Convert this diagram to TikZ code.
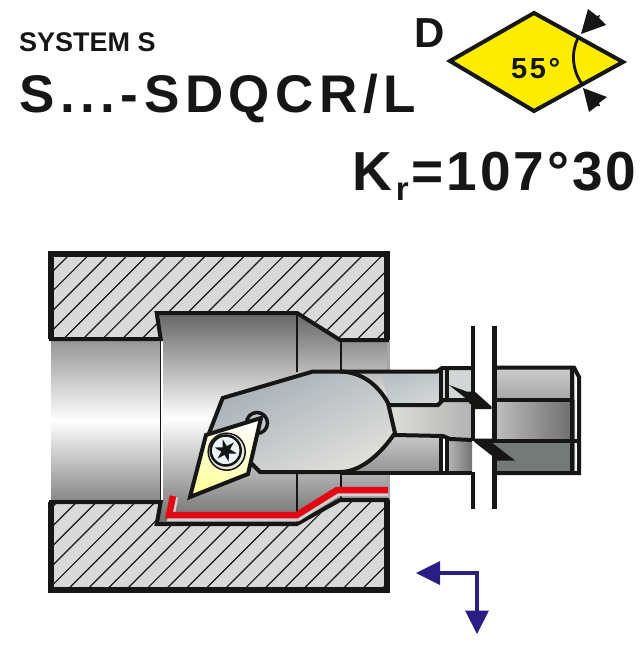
\documentclass[tikz,border=0pt]{standalone}
\usepackage{fontspec}
\setmainfont{Liberation Sans}
\newfontfamily\boldA{Liberation Sans Bold}
\newfontfamily\boldB[LetterSpace=10.5]{Liberation Sans Bold}
\newfontfamily\boldC[LetterSpace=5.3]{Liberation Sans Bold}
\newfontfamily\boldD[LetterSpace=9]{Liberation Sans Bold}
\definecolor{ink}{HTML}{161615}
\definecolor{hatchbg}{HTML}{D9D9D9}
\definecolor{navy}{HTML}{2A1E85}
\definecolor{cutred}{HTML}{E30613}
\definecolor{signyellow}{HTML}{FFED00}
\definecolor{headdark}{HTML}{A5AEB5}
\definecolor{headlight}{HTML}{E0E0DC}
\definecolor{pieceA}{HTML}{D2D6D6}
\definecolor{pieceB}{HTML}{B0B6B8}
\definecolor{darkgrey}{HTML}{747A78}
\tikzset{
  outline/.style={draw=ink,line width=4pt,line join=miter,miter limit=4},
  hatchline/.style={draw=ink,line width=1.2pt},
  label text/.style={inner sep=0pt,anchor=base west,text=ink},
  navy line/.style={draw=navy,line width=4pt},
}
\begin{document}
\begin{tikzpicture}[x=1pt,y=-1pt]
\useasboundingbox (0,0) rectangle (642,651);
% hatched block
\fill[hatchbg] (51,254) rectangle (387,590);
\begin{scope}
\clip (51,254) rectangle (387,590);
\foreach \k in {0,1,...,34}{
  \draw[hatchline] ({-266+\k*19.6},590) -- ++(345,-345);
}
\end{scope}
% bore and cavity
\path[top color=black!42,bottom color=black!48,middle color=white]
  (51,339) rectangle (161,502);
\path[top color=black!60,bottom color=black!58,middle color=white]
  (161,339) -- (157,313) -- (297,313) -- (340,340) -- (387,340) -- (387,500)
  -- (340,500) -- (297,524) -- (157,524) -- (161,502) -- cycle;
\fill[black!35] (387,341) rectangle (390,501);
\draw[ink,line width=1.3pt] (297,313) -- (297,372);
\draw[ink,line width=1.3pt] (297,472) -- (297,524);
\draw[ink,line width=1.3pt] (341,340) -- (341,372);
\draw[ink,line width=1.3pt] (341,472) -- (341,500);
\draw[ink,line width=1.3pt] (160.5,339) -- (160.5,502);
\draw[white,line width=1.2pt] (162,341) -- (162,500);
% block outline
\draw[outline,line width=5.5pt] (51,339) -- (51,254) -- (387,254) -- (387,340);
\draw[outline,line width=5.5pt] (51,502) -- (51,590) -- (387,590) -- (387,500);
\draw[outline] (49,339) -- (160.7,339) -- (156.7,313) -- (297,313) -- (340,340) -- (389,340);
\draw[outline] (49,502) -- (160.7,502) -- (156.7,524) -- (297,524) -- (340,500) -- (389,500);
% red cutting path
\draw[black!18,line width=6.5pt] (175,497) -- (171,518) -- (298,518) -- (338,493) -- (388,493);
\draw[cutred,line width=6.5pt,line join=miter] (173,496) -- (169,515) -- (297,515) -- (337,490) -- (388,490);
% shank strips
\path[left color=headdark!80,right color=pieceA,shading angle=20]
  (380,372) -- (441,372) -- (441,404) -- (390,404) -- cycle;
\path[left color=headlight,right color=black!30]
  (385,404) -- (438,404) -- (443,400) -- (472,400) -- (472,440) -- (450,439) -- (443,436) -- (395,436) -- cycle;
\path[top color=black!22,bottom color=black!42]
  (385,436) -- (441,436) -- (441,472) -- (340,472) -- cycle;
\fill[pieceA] (443,367) rectangle (472,400);
\path[left color=black!25,right color=black!55] (445,438) rectangle (472,472);
% right-hand part of shank
\path[top color=black!20,bottom color=black!35] (494,367) rectangle (575,400);
\path[left color=black!25,right color=black!58] (494,400) rectangle (575,440);
\fill[darkgrey] (486,440) -- (575,440) -- (575,473) -- (494,473) -- (494,458) -- cycle;
% holder head
\path[left color=headdark,right color=headlight,shading angle=25]
  (222.7,398) -- (313,371.5) -- (340,371.5)
  .. controls (362,372) and (380,385) .. (388,403) -- (395,433)
  .. controls (380,455) and (360,472) .. (340,472) -- (260,472) -- (250,462) -- (208,433) -- cycle;
\draw[outline]
  (208,436) -- (222.7,398) -- (313,371.5) -- (340,371.5)
  .. controls (362,372) and (378,385) .. (388,403) -- (395,433)
  .. controls (380,455) and (360,472) .. (340,472) -- (260,472) -- (250,462);
% shank lines
\draw[outline] (340,371.5) -- (437,371.5) -- (442,368) -- (472,368);
\draw[outline] (388,405) -- (438,405) -- (443,400) -- (472,400);
\draw[outline] (395,435) -- (443,436) -- (450,439) -- (472,440);
\draw[outline] (340,472.5) -- (472,472.5);
\draw[ink,line width=4pt] (440.5,368) -- (440.5,403);
\draw[ink,line width=4pt] (446.5,368) -- (446.5,401);
\draw[ink,line width=4pt] (440.5,437) -- (440.5,472);
\draw[ink,line width=4pt] (446.5,438) -- (446.5,472);
% break lines and wedges
\draw[outline] (472.5,326) -- (472.5,392);
\draw[outline] (472.5,403) -- (472.5,441);
\draw[outline] (472.5,472) -- (472.5,509);
\draw[outline,line width=5pt] (494.2,326) -- (494.2,441);
\draw[outline,line width=5pt] (494.2,455) -- (494.2,509);
\fill[ink] (449,385) -- (467,391.7) -- (475,391.7) -- (491.7,406.7) -- (491.7,409) -- (475,409) -- (475,404) -- (470,404) -- (466,398.5) -- cycle;
\fill[ink] (472,438.5) -- (494,438.5) -- (494,442.7) -- (492,442.7) -- (515,460.5) -- (496.7,460.5) -- (496.7,456.5) -- (491.7,455.5) -- (475,442.5) -- cycle;
\draw[outline] (494,367.5) -- (574,367.5) -- (579,377) -- (579,473) -- (494,473);
\draw[outline] (494,400) -- (573,400);
\draw[outline] (490,440.5) -- (578,440.5);
\draw[ink,line width=3.5pt] (572,367) -- (572,473);
% hole and insert
\draw[draw=ink,line width=3.5pt,fill=headdark!70] (257,423) circle[radius=10.5];
\path[left color=white,right color=yellow!40,shading angle=-20,draw=ink,line width=4pt,line join=miter]
  (206,435) -- (261,418) -- (248,474) -- (190,497) -- cycle;
\draw[ink,line width=1.5pt,fill=yellow!35!black!15!white] (226.7,451.7) circle[radius=18.5];
\draw[ink,line width=2.5pt,fill=black!20!cyan!8!white] (225.7,450.5) circle[radius=15];
\fill[ink] plot[samples at={0,30,...,330}] ({225.7+(8+3.5*cos(6*\x))*cos(\x+15)},{450.5+(8+3.5*cos(6*\x))*sin(\x+15)}) -- cycle;
% navy direction arrows
\draw[navy line] (438,573) -- (477,573) -- (477,612);
\fill[navy] (416,573) -- (440,561) -- (440,585) -- cycle;
\fill[navy] (465,610.5) -- (489,610.5) -- (477,634) -- cycle;
% insert symbol
\draw[draw=ink,fill=signyellow,line width=4pt,line join=miter] (450,61) -- (534,13) -- (623,62) -- (534,111) -- cycle;
\draw[ink,line width=2.8pt] (578,38) .. controls (571,52) and (572,70) .. (582,84);
\fill[ink] (581,34) -- (588,9) -- (597,16) -- (600,15) -- (599,18) -- (606,25) -- cycle;
\fill[ink] (583,88) -- (607,97) -- (599,103) -- (600,106) -- (597,106) -- (589,112) -- cycle;
% texts
\node[label text,font=\boldA\fontsize{27}{27}\selectfont] (sys) at (19,51.5) {SYSTEM S};
\node[label text,font=\boldB\fontsize{53}{53}\selectfont] (code) at (19,112.5) {S...-SDQCR/L};
\node[label text,font=\boldA\fontsize{42}{42}\selectfont] (typ) at (414,47) {D};
\node[label text,font=\boldD\fontsize{29}{29}\selectfont] (ang) at (511,78) {55°};
\node[label text,font=\boldC\fontsize{55}{55}\selectfont] (kr) at (352,190) {K\kern4pt\raisebox{-10pt}{\fontsize{33}{33}\selectfont r}\kern3pt=107°30};
\end{tikzpicture}
\end{document}
